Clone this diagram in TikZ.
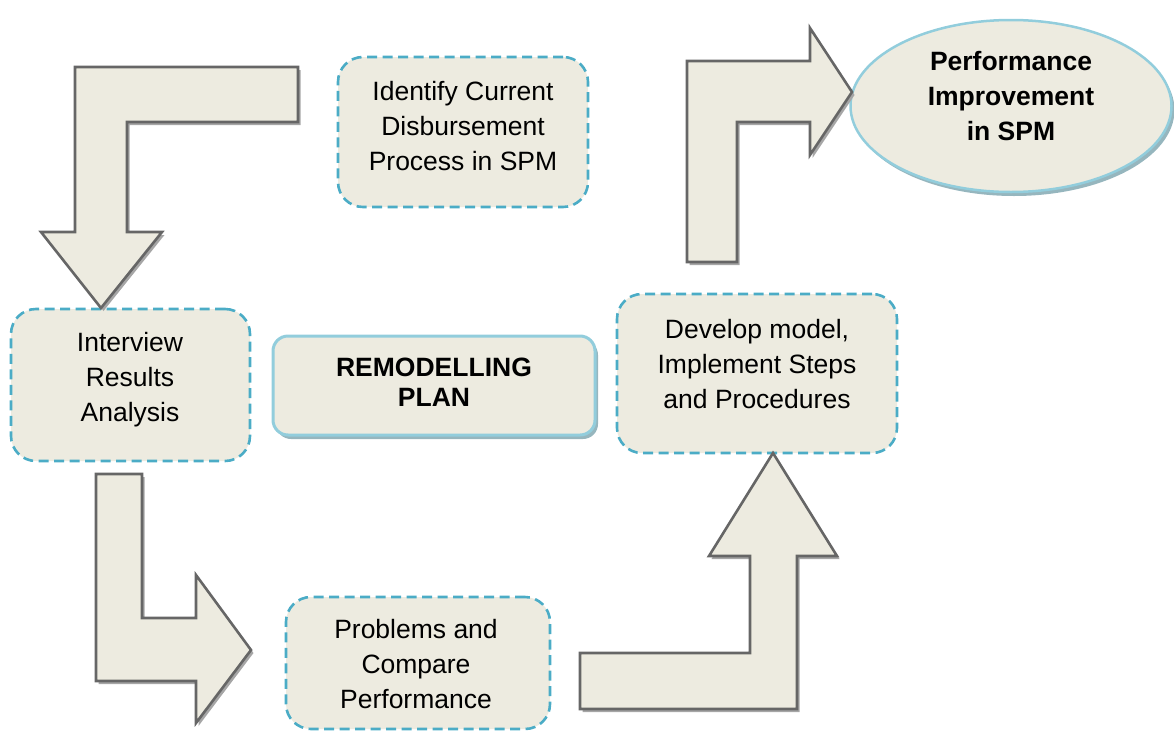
\documentclass[tikz,border=0pt]{standalone}
\usepackage{fontspec}
\setmainfont{Liberation Sans}
\usetikzlibrary{shapes.geometric,shadows}

\definecolor{boxfill}{HTML}{EDEBE0}
\definecolor{dashblue}{HTML}{4BACC6}
\definecolor{softblue}{HTML}{92CDDC}
\definecolor{arrowline}{HTML}{666666}

\tikzset{
  stepbox/.style={draw=dashblue, line width=2.6pt, dash pattern=on 10pt off 5.5pt,
    fill=boxfill, rounded corners=25pt, inner sep=0pt},
  planbox/.style={draw=softblue, line width=3pt, fill=boxfill, rounded corners=15pt,
    inner sep=0pt, drop shadow={shadow xshift=3pt, shadow yshift=-4pt, fill=softblue!60!gray, opacity=0.9}},
  goal/.style={ellipse, draw=softblue, line width=2.5pt, fill=boxfill, inner sep=0pt,
    drop shadow={shadow xshift=3pt, shadow yshift=-4pt, fill=softblue!60!gray, opacity=0.9}},
  blockarrow/.style={draw=arrowline, line width=2.6pt, fill=boxfill, line join=miter,
    drop shadow={shadow xshift=2.5pt, shadow yshift=-3pt, fill=black!35, opacity=1}},
  steptext/.style={font=\fontsize{26.5}{35}\selectfont, align=center, text=black, inner sep=0pt},
  boldtext/.style={steptext, font=\fontsize{26.5}{35}\selectfont\bfseries},
}

\begin{document}
\begin{tikzpicture}[x=1pt, y=-1pt]
\useasboundingbox (0,0) rectangle (1174,731);

% step boxes
\node[stepbox, minimum width=250pt, minimum height=150pt] (identify) at (463,132) {};
\node[steptext] (identifyText) at (463,126) {Identify Current\\Disbursement\\Process in SPM};

\node[stepbox, minimum width=239pt, minimum height=152pt] (interview) at (130.5,385) {};
\node[steptext] (interviewText) at (130,380) {Interview\\Results\\Analysis};

\node[stepbox, minimum width=280pt, minimum height=159pt] (develop) at (757,373.5) {};
\node[steptext] (developText) at (757,364) {Develop model,\\Implement Steps\\and Procedures};

\node[stepbox, minimum width=264pt, minimum height=132pt] (problems) at (418,663) {};
\node[steptext] (problemsText) at (416,664) {Problems and\\Compare\\Performance};

% central plan box
\node[planbox, minimum width=322pt, minimum height=99pt] (plan) at (434,385.5) {};
\node[boldtext, font=\fontsize{26.5}{30.5}\selectfont\bfseries] (planText) at (434,382) {REMODELLING\\PLAN};

% outcome
\node[goal, minimum width=321pt, minimum height=172pt] (outcome) at (1011,106) {};
\node[boldtext] (outcomeText) at (1011,96) {Performance\\Improvement\\in SPM};

% block arrows
\draw[blockarrow] (75,67) -- (298,67) -- (298,122) -- (127,122) -- (127,232)
  -- (162,232) -- (101,308) -- (41,232) -- (75,232) -- cycle;

\draw[blockarrow] (96,474) -- (142,474) -- (142,618) -- (196,618) -- (196,575)
  -- (251,650) -- (196,723) -- (196,681) -- (96,681) -- cycle;

\draw[blockarrow] (580,653) -- (750,653) -- (750,556) -- (709,556) -- (773,453)
  -- (837,556) -- (797,556) -- (797,709) -- (580,709) -- cycle;

\draw[blockarrow] (687,262) -- (687,61) -- (810,61) -- (810,28) -- (852,92)
  -- (810,155) -- (810,122) -- (737,122) -- (737,262) -- cycle;
\end{tikzpicture}
\end{document}
